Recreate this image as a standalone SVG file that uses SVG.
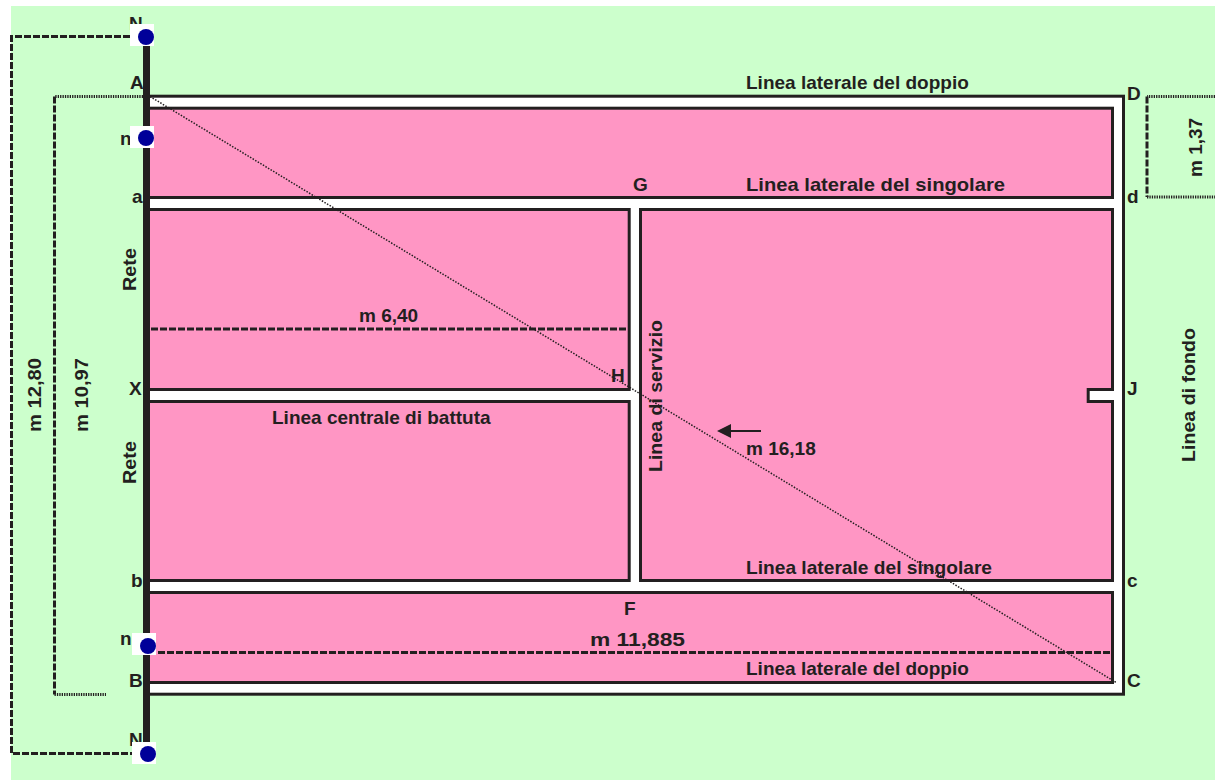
<svg xmlns="http://www.w3.org/2000/svg" width="1215" height="780" viewBox="0 0 1215 780">
<style>
text{font-family:"Liberation Sans",Arial,sans-serif;font-weight:700;font-size:19px;fill:#231f20}
.p{fill:#ff96c4;stroke:#231f20;stroke-width:3}
.dash{fill:none;stroke:#231f20;stroke-width:3;stroke-dasharray:7 2}
.dot{fill:none;stroke:#231f20;stroke-width:3;stroke-dasharray:1.300 1.100}
.box{fill:#fff}
.ball{fill:#000099}
</style>
<defs><marker id="ah" markerWidth="14" markerHeight="14" refX="0" refY="7" orient="auto" markerUnits="userSpaceOnUse"><path d="M0 0L14 7L0 14Z" fill="#231f20"/></marker></defs>
<rect id="background" x="11" y="6" width="1204" height="774" fill="#ccffcc"/>
<g id="court">
<rect x="147.500" y="96.200" width="976" height="598" fill="#fff" stroke="#231f20" stroke-width="3"/>
<rect class="p" x="148.500" y="108.200" width="964" height="89.300"/>
<path class="p" d="M148.500 209.500H629.200V389.500H148.500Z"/>
<path class="p" d="M148.500 401.500H629.200V580.500H148.500Z"/>
<path class="p" d="M640.500 209.500H1112.500V389.500H1088.200V401.500H1112.500V580.500H640.500Z"/>
<rect class="p" x="148.500" y="592.500" width="964" height="90"/>
</g>
<g id="connectors">
<path class="dash" d="M130 36.500H11.500V753.500H132"/>
<path class="dot" d="M143 96.500H54.500"/>
<path class="dash" d="M54.500 96.500V694.500"/>
<path class="dot" d="M54.500 694.500H106"/>
<path class="dot" d="M1215 96.500H1147"/>
<path class="dash" d="M1147 96.500V197"/>
<path class="dot" d="M1147 197H1215"/>
<path class="dash" d="M151 329H628"/>
<path class="dash" d="M158 652.500H1111"/>
<path d="M150 96.500L1117 683" fill="none" stroke="#231f20" stroke-width="1.500" stroke-dasharray="1.500 1.500"/>
<path d="M761 431H731" fill="none" stroke="#231f20" stroke-width="2" marker-end="url(#ah)"/>
</g>
<g id="net"><rect x="143" y="36" width="7" height="708" fill="#231f20"/><text transform="translate(136 291) rotate(-90)" textLength="43" lengthAdjust="spacingAndGlyphs">Rete</text><text transform="translate(136 484) rotate(-90)" textLength="43" lengthAdjust="spacingAndGlyphs">Rete</text></g>
<g id="post-N-top"><text x="129" y="30">N</text><rect class="box" x="130" y="24" width="24" height="22"/><circle class="ball" cx="146" cy="37" r="8"/></g>
<g id="post-n-top"><text x="120" y="145">n</text><rect class="box" x="130" y="126" width="24" height="22"/><circle class="ball" cx="146" cy="138" r="8"/></g>
<g id="post-n-bottom"><text x="120" y="645">n</text><rect class="box" x="132" y="633" width="24" height="22"/><circle class="ball" cx="148" cy="646" r="8"/></g>
<g id="post-N-bottom"><text x="129" y="746">N</text><rect class="box" x="132" y="742" width="24" height="22"/><circle class="ball" cx="148" cy="754" r="8"/></g>
<g id="labels">
<text x="130" y="89">A</text><text x="132" y="203">a</text><text x="129" y="395">X</text><text x="131" y="587">b</text><text x="129" y="687">B</text>
<text x="1127" y="100">D</text><text x="1127" y="203">d</text><text x="1127" y="395">J</text><text x="1127" y="587">c</text><text x="1127" y="687">C</text>
<text x="633" y="191">G</text><text x="611" y="382">H</text><text x="624" y="615">F</text>
<text x="746" y="89">Linea laterale del doppio</text>
<text x="746" y="191" textLength="259" lengthAdjust="spacingAndGlyphs">Linea laterale del singolare</text>
<text x="746" y="574" textLength="246" lengthAdjust="spacingAndGlyphs">Linea laterale del singolare</text>
<text x="746" y="675">Linea laterale del doppio</text>
<text x="272" y="424">Linea centrale di battuta</text>
<text x="359" y="322">m 6,40</text>
<text x="590" y="646" textLength="95" lengthAdjust="spacingAndGlyphs">m 11,885</text>
<text x="746" y="455">m 16,18</text>
<text transform="translate(662 472) rotate(-90)" textLength="152" lengthAdjust="spacingAndGlyphs">Linea di servizio</text>
<text transform="translate(1195 462) rotate(-90)" textLength="134" lengthAdjust="spacingAndGlyphs">Linea di fondo</text>
<text transform="translate(1202 177) rotate(-90)">m 1,37</text>
<text transform="translate(41 432) rotate(-90)" textLength="74" lengthAdjust="spacingAndGlyphs">m 12,80</text>
<text transform="translate(88 432) rotate(-90)" textLength="74" lengthAdjust="spacingAndGlyphs">m 10,97</text>
</g>
</svg>
